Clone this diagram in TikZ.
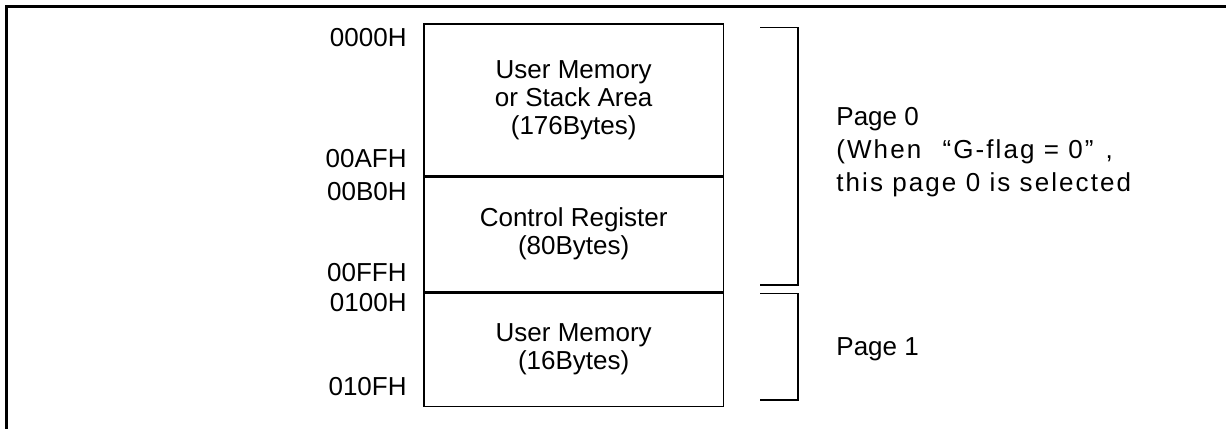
\documentclass[tikz,border=0pt]{standalone}
\usepackage{fontspec}
\setmainfont{Liberation Sans}
\usetikzlibrary{positioning}

\tikzset{
  region/.style={draw, line width=0.7pt, minimum width=149.65pt, inner sep=0pt,
    align=center, anchor=north, font=\fontsize{13pt}{14pt}\selectfont},
  addr/.style={anchor=base east, inner sep=0pt, font=\fontsize{13pt}{14pt}\selectfont},
  pagetext/.style={anchor=base west, inner sep=0pt, align=left,
    font=\fontsize{13pt}{16.6pt}\selectfont},
  bracket/.style={line width=0.7pt},
  frame/.style={line width=1.2pt}
}
\newcommand{\wide}{\addfontfeature{LetterSpace=8}}

\begin{document}
\begin{tikzpicture}[x=0.5pt, y=-0.5pt]
	\useasboundingbox (0,0) rectangle (1226,429);
	\draw[frame] (1226,6.5) -- (6.5,6.5) -- (6.5,429);
	
	% memory map
	\node[region, minimum height=75.85pt] (stack) at (573.7,23.3) {User Memory\\or Stack Area\\(176Bytes)};
	\node[region, minimum height=57.15pt] (ctrl) at (stack.south) {Control Register\\(80Bytes)};
	\node[region, minimum height=56.7pt] (umem) at (ctrl.south) {User Memory\\(16Bytes)};
	
	% addresses
	\node[addr] (a0000) at (407,46.7) {0000H};
	\node[addr] (a00af) at (407,167.7) {00AFH};
	\node[addr] (a00b0) at (407,200.2) {00B0H};
	\node[addr] (a00ff) at (407,281.7) {00FFH};
	\node[addr] (a0100) at (407,311.7) {0100H};
	\node[addr] (a010f) at (407,395.2) {010FH};
	
	% pages
	\draw[bracket] (760,27.3) -- (798,27.3) -- (798,285) -- (760,285);
	\draw[bracket] (760,293.3) -- (798,293.3) -- (798,400) -- (760,400);
	\node[pagetext] (page0) at (836,191.7) {Page 0\\{\wide(When \hspace{6pt}“G-flag = 0”\hspace{6pt},}\\{\wide this page 0 is selected}};
	\node[pagetext] (page1) at (836,355) {Page 1};
\end{tikzpicture}
\end{document}
